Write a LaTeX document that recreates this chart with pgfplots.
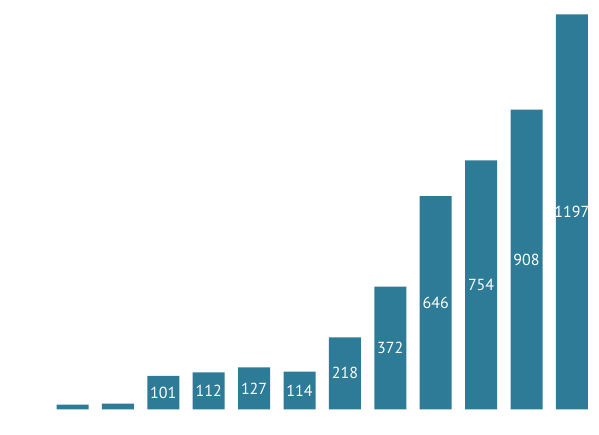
\documentclass[border=0pt]{standalone}
\usepackage{pgfplots}
\pgfplotsset{compat=1.18}
\usepackage{pgfplotstable}
\usepackage{fontspec}
\setmainfont{PT Sans}
\definecolor{barc}{RGB}{46,123,151}
\pgfplotstableread{
x y lab
0 14 {}
1 17 {}
2 101 101
3 112 112
4 127 127
5 114 114
6 218 218
7 372 372
8 646 646
9 754 754
10 908 908
11 1197 1197
}\datatab
\begin{document}
\begin{tikzpicture}
\path[use as bounding box] (0,0) rectangle (599pt,434pt);
\begin{axis}[
  at={(0,0)}, anchor=south west,
  scale only axis, width=599pt, height=434pt,
  hide axis,
  xmin=-1.597, xmax=11.597,
  ymin=-74.8, ymax=1240.3,
  ybar, bar width=0.705,
  point meta=explicit symbolic,
  visualization depends on=y \as \rawy,
  nodes near coords,
  nodes near coords style={white, anchor=center, font=\fontsize{16}{19}\selectfont,
    shift={(axis direction cs:0,-\rawy/2)}},
]
\addplot[fill=barc, draw=none] table[x=x, y=y, meta=lab] {\datatab};
\end{axis}
\end{tikzpicture}
\end{document}
